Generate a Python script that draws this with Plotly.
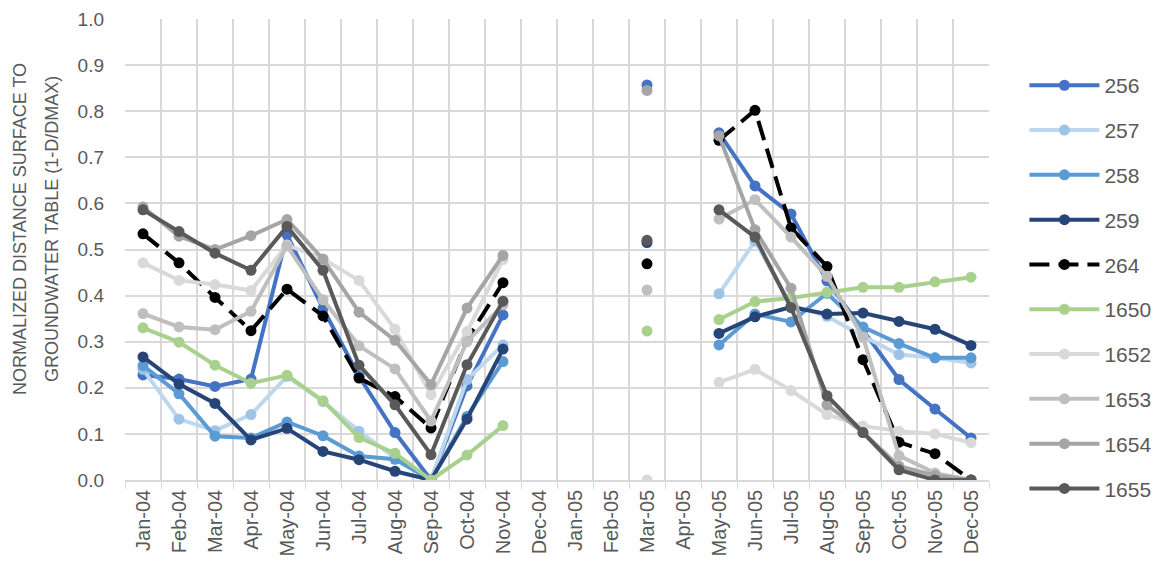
import plotly.graph_objects as go

months = ["Jan-04","Feb-04","Mar-04","Apr-04","May-04","Jun-04","Jul-04","Aug-04","Sep-04","Oct-04","Nov-04","Dec-04",
          "Jan-05","Feb-05","Mar-05","Apr-05","May-05","Jun-05","Jul-05","Aug-05","Sep-05","Oct-05","Nov-05","Dec-05"]

s256 = [0.228,0.219,0.203,0.219,0.532,0.372,0.225,0.103,0.0,0.204,0.358, None,None,None,0.857,None, 0.753,0.638,0.577,0.432,0.325,0.218,0.154,0.091]
s257 = [0.240,0.132,0.107,0.142,0.225,0.170,0.106,0.048,0.0,0.218,0.293, None,None,None,None,None, 0.404,0.518,0.380,0.355,0.312,0.272,0.265,0.254]
s258 = [0.248,0.187,0.095,0.091,0.126,0.096,0.052,0.045,0.0,0.138,0.257, None,None,None,None,None, 0.293,0.360,0.343,0.405,0.332,0.296,0.265,0.265]
s259 = [0.267,0.208,0.166,0.087,0.112,0.062,0.044,0.019,0.0,0.132,0.284, None,None,None,0.515,None, 0.318,0.354,0.375,0.360,0.362,0.344,0.327,0.292]
s264 = [0.534,0.471,0.396,0.324,0.414,0.356,0.221,0.181,0.113,0.305,0.428, None,None,None,0.469,None, 0.737,0.802,0.547,0.463,0.261,0.082,0.057,0.0]
s1650 = [0.330,0.299,0.249,0.210,0.227,0.172,0.092,0.058,0.0,0.054,0.118, None,None,None,0.323,None, 0.348,0.387,0.395,0.407,0.418,0.418,0.430,0.440]
s1652 = [0.471,0.433,0.424,0.411,0.510,0.480,0.433,0.327,0.185,0.322,0.478, None,None,None,0.0,None, 0.212,0.240,0.194,0.142,0.117,0.106,0.100,0.081]
s1653 = [0.361,0.332,0.326,0.366,0.508,0.391,0.291,0.241,0.128,0.300,0.380, None,None,None,0.412,None, 0.566,0.608,0.527,0.442,0.310,0.053,0.015,0.0]
s1654 = [0.592,0.529,0.500,0.530,0.565,0.479,0.364,0.303,0.207,0.373,0.487, None,None,None,0.845,None, 0.747,0.543,0.416,0.163,0.103,0.030,0.010,0.0]
s1655 = [0.586,0.539,0.492,0.455,0.550,0.455,0.249,0.163,0.055,0.250,0.388, None,None,None,0.520,None, 0.586,0.527,0.374,0.183,0.103,0.022,0.0,0.0]

title_lines = ["NORMALIZED DISTANCE SURFACE TO", "GROUNDWATER TABLE (1-D/DMAX)"]

series = [
    ("256", s256, "#4472C4", "#4472C4", "solid"),
    ("257", s257, "#BDD7EE", "#9DC3E6", "solid"),
    ("258", s258, "#5B9BD5", "#5B9BD5", "solid"),
    ("259", s259, "#264478", "#264478", "solid"),
    ("264", s264, "#000000", "#000000", "20px,9px"),
    ("1650", s1650, "#A9D18E", "#A9D18E", "solid"),
    ("1652", s1652, "#D9D9D9", "#D9D9D9", "solid"),
    ("1653", s1653, "#BFBFBF", "#BFBFBF", "solid"),
    ("1654", s1654, "#A5A5A5", "#A5A5A5", "solid"),
    ("1655", s1655, "#595959", "#595959", "solid"),
]

fig = go.Figure()
for name, vals, lc, mc, dash in series:
    fig.add_trace(go.Scatter(
        x=months, y=vals, name=name, mode="lines+markers",
        line=dict(color=lc, width=4, dash=dash),
        marker=dict(color=mc, size=11),
        connectgaps=False, legendgroup=name,
    ))

font_family = "Liberation Sans, Arial, sans-serif"
plot_bottom = 480  # screen px of the x axis
fig.update_layout(
    width=1161, height=570,
    margin=dict(l=117, r=180, t=11, b=98),
    paper_bgcolor="white", plot_bgcolor="white",
    font=dict(family=font_family, color="#595959", size=18),
    showlegend=True,
    legend=dict(x=1.041, y=0.90, xanchor="left", yanchor="top",
                font=dict(size=21, color="#595959"),
                traceorder="grouped", tracegroupgap=14.5, itemwidth=70,
                maxheight=600,
                bgcolor="rgba(0,0,0,0)"),
    xaxis=dict(type="category", categoryorder="array", categoryarray=months,
               tickangle=-90, tickson="boundaries", showgrid=True, gridcolor="#D9D9D9", gridwidth=1.5,
               ticks="outside", ticklen=7, tickcolor="#D9D9D9", showline=True, linecolor="#D9D9D9",
               linewidth=1.5, tickfont=dict(size=20, color="#595959"), range=[-0.5, 23.5],
               automargin=False),
    yaxis=dict(range=[0, 1.0], dtick=0.1, tickformat=".1f", showgrid=True, gridcolor="#D9D9D9", gridwidth=1.5,
               zeroline=True, zerolinecolor="#D9D9D9", zerolinewidth=1.5,
               tickfont=dict(size=19, color="#595959"), ticks="", showline=False,
               ticklabelstandoff=20, automargin=False, ticklabeloverflow="allow"),
)

for txt, xp in zip(title_lines, [20, 52]):
    fig.add_annotation(text=txt, textangle=-90, showarrow=False,
                       xref="paper", yref="paper",
                       x=(xp - 125) / 864, y=(plot_bottom - 229) / 461,
                       xanchor="center", yanchor="middle",
                       font=dict(size=18, color="#595959", family=font_family))

fig.write_html("out.html")
